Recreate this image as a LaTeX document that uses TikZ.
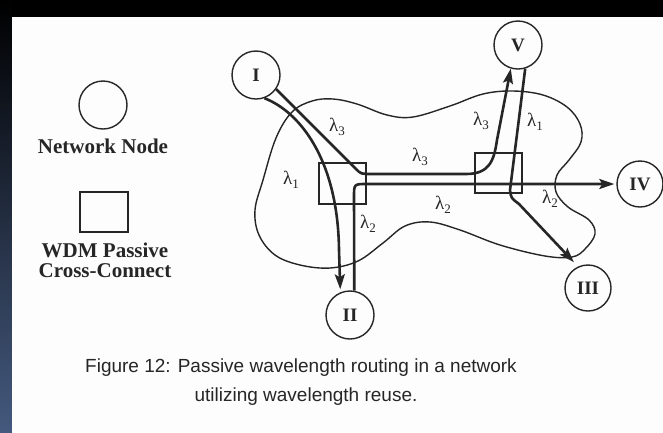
\documentclass[tikz,border=0pt]{standalone}
\usepackage{fontspec}
\setmainfont{Liberation Serif}
\newfontfamily\capfont{Liberation Sans}
\usetikzlibrary{arrows.meta}
\definecolor{ink}{HTML}{262626}
\definecolor{slate}{HTML}{44597E}
\definecolor{paper}{HTML}{FDFDFD}
\newcommand{\wl}[1]{λ\raisebox{-0.5ex}{\fontsize{13}{13}\selectfont #1}}
\begin{document}
\begin{tikzpicture}[x=1pt,y=-1pt,
  netnode/.style={circle, draw=ink, line width=1.4pt, minimum size=48pt, inner sep=0pt,
    font=\fontsize{19}{19}\selectfont\bfseries, text=ink},
  xcbox/.style={draw=ink, line width=1.4pt, inner sep=0pt},
  fiber/.style={draw=ink, line width=2.6pt},
  tip/.style={-{Stealth[length=15pt,width=10pt,inset=3pt]}},
  wlab/.style={font=\fontsize{19}{19}\selectfont, text=ink, inner sep=0pt},
  blob/.style={draw=ink, line width=1.4pt},
  legend/.style={font=\fontsize{21}{20}\selectfont\bfseries, text=ink, align=center, inner sep=0pt},
  capt/.style={font=\capfont\fontsize{19}{19}\selectfont, text=ink, inner sep=0pt}
]
\useasboundingbox (0,0) rectangle (663,432);
% background
\fill[black] (0,0) rectangle (663,17);
\shade[top color=black, bottom color=slate] (0,0) rectangle (12,432);
\fill[paper] (12,17) rectangle (663,432);

% legend
\node[netnode] (legnode) at (103,105) {};
\node[legend] (legnodetxt) at (103,146) {Network Node};
\node[xcbox, minimum width=48pt, minimum height=40pt] (legbox) at (104,212) {};
\node[legend] (legboxtxt) at (105,260) {WDM Passive\\Cross-Connect};

% network cloud
\draw[blob] plot[smooth cycle, tension=0.6] coordinates {
  (263,180) (276,138) (292,112) (312,101) (333,99) (357,104) (387,115) (413,117)
  (450,106) (483,94) (513,91) (543,95) (567,107) (580,124) (581,142) (569,160)
  (557,175) (556,192) (568,207) (589,220) (595,234) (585,249) (572,257)
  (545,256) (500,245) (460,230) (430,222) (405,226) (383,243) (358,261)
  (330,268) (300,265) (275,255) (259,235) (255,210)};

% cross-connects
\node[xcbox, minimum width=47pt, minimum height=41pt] (xc1) at (342.5,183.5) {};
\node[xcbox, minimum width=47pt, minimum height=40pt] (xc2) at (498.5,173) {};

% nodes
\node[netnode] (I) at (256,75) {I};
\node[netnode] (V) at (518,45) {V};
\node[netnode, minimum size=46pt] (IV) at (640,184) {IV};
\node[netnode, minimum size=46pt] (III) at (588,288) {III};
\node[netnode] (II) at (350,315) {II};

% lambda 3 : I -> V
\draw[fiber, tip] (I.-35) -- (356,169) .. controls (361,174) .. (372,174) -- (466,174)
  .. controls (490,174) and (494,160) .. (497,140) -- (V.253);
% lambda 2 : II -> IV
\draw[fiber, tip, shorten >=2pt] (II.80) -- (354,197) .. controls (354,184) .. (367,184) -- (IV.west);
% lambda 1 : V -> III
\draw[fiber, tip, shorten >=6pt] (V.287) -- (510,190) .. controls (511,198) .. (519,204) -- (III.115);
% lambda 1 : I -> II
\draw[fiber, tip, shorten >=3pt] (I.-70) .. controls (300,112) and (338,160) .. (339,250) -- (II.113);

% wavelength labels
\node[wlab] (l3a) at (337,127) {\wl{3}};
\node[wlab] (l3b) at (420,157) {\wl{3}};
\node[wlab] (l3c) at (481,121) {\wl{3}};
\node[wlab] (l1a) at (535,122) {\wl{1}};
\node[wlab] (l1b) at (291,180) {\wl{1}};
\node[wlab] (l2a) at (368,224) {\wl{2}};
\node[wlab] (l2b) at (443,205) {\wl{2}};
\node[wlab] (l2c) at (550,199) {\wl{2}};

% caption
\node[capt] (cap1) at (301,368) {Figure 12: Passive wavelength routing in a network};
\node[capt] (cap2) at (306,397) {utilizing wavelength reuse.};
\end{tikzpicture}
\end{document}
